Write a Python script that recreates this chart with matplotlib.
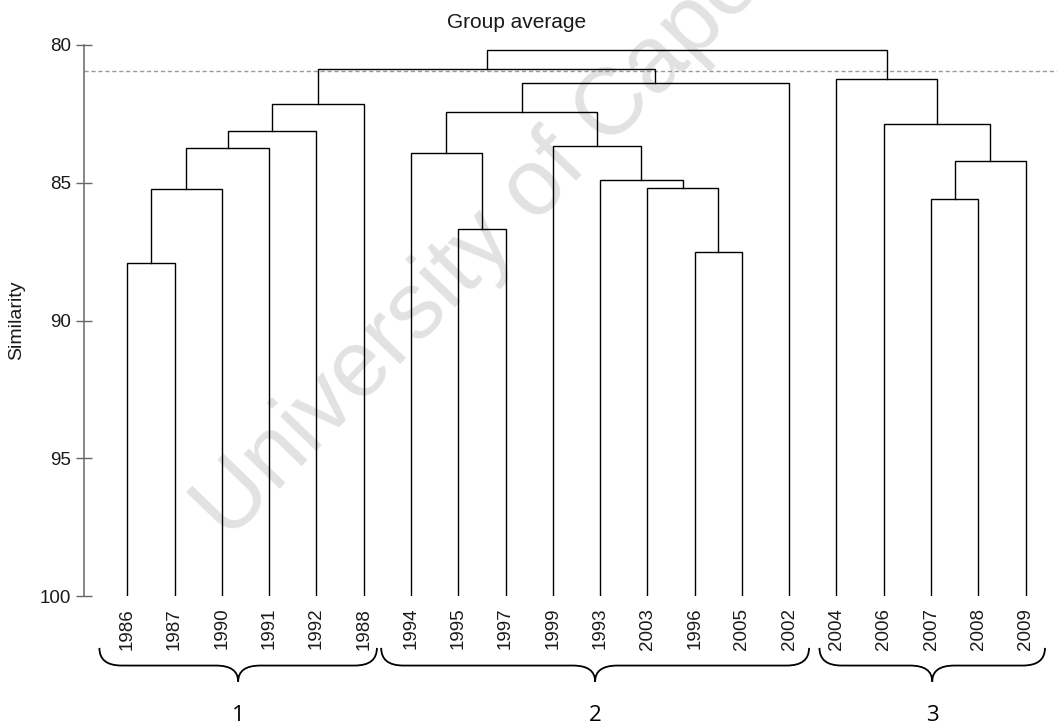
import numpy as np
import matplotlib
matplotlib.use("Agg")
import matplotlib.pyplot as plt
from matplotlib.path import Path
from matplotlib.patches import PathPatch

plt.rcParams["font.family"] = ["Liberation Sans", "DejaVu Sans"]

# leaf order along the x axis
leaf_labels = ["1986", "1987", "1990", "1991", "1992", "1988",
               "1994", "1995", "1997", "1999", "1993", "2003", "1996", "2005", "2002",
               "2004", "2006", "2007", "2008", "2009"]

# merges: ids 0-19 are leaves, merge k gets id 20+k
merge_left = [0, 20, 21, 22, 23,
              7, 6, 12, 11, 10, 9, 26, 31,
              17, 33, 16, 15,
              24, 37]
merge_right = [1, 2, 3, 4, 5,
               8, 25, 13, 27, 28, 29, 30, 14,
               18, 19, 34, 35,
               32, 36]
merge_height = [87.92, 85.22, 83.74, 83.11, 82.14,
                86.68, 83.91, 87.50, 85.18, 84.91, 83.66, 82.42, 81.37,
                85.60, 84.20, 82.86, 81.22,
                80.87, 80.17]

cut_level = 80.93

group_names = ["1", "2", "3"]
group_sizes = [6, 9, 5]

# brace overhang past first / last leaf of each group (layout only)
brace_pad_left = [0.59, 0.63, 0.36]
brace_pad_right = [0.28, 0.42, 0.41]

fig = plt.figure(figsize=(10.57, 7.26), dpi=100)
W, H = 1057.0, 726.0
ax = fig.add_axes([84.3 / W, 1 - 596.1 / H, (W - 84.3) / W, (596.1 - 44.9) / H])
ax.patch.set_visible(False)

# watermark behind everything
fig.text(229 / W, 1 - 542 / H, "University of Cape Town", rotation=46,
         rotation_mode="anchor", ha="left", va="baseline", fontsize=68,
         color="#e2e2e2", zorder=-1)

# cluster x positions and heights
n = len(leaf_labels)
xpos = list(range(n))
hpos = [100.0] * n
for l, r, h in zip(merge_left, merge_right, merge_height):
    ax.plot([xpos[l], xpos[l], xpos[r], xpos[r]], [hpos[l], h, h, hpos[r]],
            color="black", lw=1.0, solid_joinstyle="miter", zorder=3)
    xpos.append((xpos[l] + xpos[r]) / 2.0)
    hpos.append(h)

ax.axhline(cut_level, color="#9a9a9a", lw=1.0, linestyle=(0, (3, 2)), zorder=2)

ax.set_ylim(100, 80)
px_per_leaf = 47.28
ax.set_xlim(-0.909, -0.909 + (W - 84.3) / px_per_leaf)

ax.set_yticks([80, 85, 90, 95, 100])
ax.set_yticklabels(["80", "85", "90", "95", "100"])
ax.tick_params(axis="y", direction="inout", length=11.5, width=1.0,
               color="#666666", pad=3.6, labelsize=13.5, labelcolor="#1a1a1a")
ax.set_xticks(range(n))
ax.set_xticklabels(leaf_labels, rotation=90, fontsize=13.5, color="#1a1a1a")
ax.tick_params(axis="x", length=0, pad=8.4)

for s in ["top", "right", "bottom"]:
    ax.spines[s].set_visible(False)
ax.spines["left"].set_color("#666666")
ax.spines["left"].set_linewidth(1.1)

fig.text(517 / W, 1 - 23 / H, "Group average", ha="center", va="center",
         fontsize=15, color="#1a1a1a")
fig.text(17 / W, 1 - 320 / H, "Similarity", rotation=90, ha="center",
         va="center", fontsize=14, color="#1a1a1a")

# curly braces under the groups
y_top, y_mid, y_tip, y_num = 101.88, 102.52, 103.1, 104.35
r = 0.47
start = 0
for g, size in enumerate(group_sizes):
    xa = start - brace_pad_left[g]
    xb = start + size - 1 + brace_pad_right[g]
    xm = (xa + xb) / 2.0
    verts = [(xa, y_top), (xa, y_mid), (xa + r, y_mid),
             (xm - r, y_mid), (xm, y_mid), (xm, y_tip),
             (xm, y_mid), (xm + r, y_mid),
             (xb - r, y_mid), (xb, y_mid), (xb, y_top)]
    codes = [Path.MOVETO, Path.CURVE3, Path.CURVE3,
             Path.LINETO, Path.CURVE3, Path.CURVE3,
             Path.CURVE3, Path.CURVE3,
             Path.LINETO, Path.CURVE3, Path.CURVE3]
    ax.add_patch(PathPatch(Path(verts, codes), fill=False, lw=1.3,
                           edgecolor="black", clip_on=False))
    ax.text(xm, y_num, group_names[g], ha="center", va="center", fontsize=16,
            family=["Open Sans", "DejaVu Sans"], color="black", clip_on=False)
    start += size

plt.savefig("out.png", dpi=100)
